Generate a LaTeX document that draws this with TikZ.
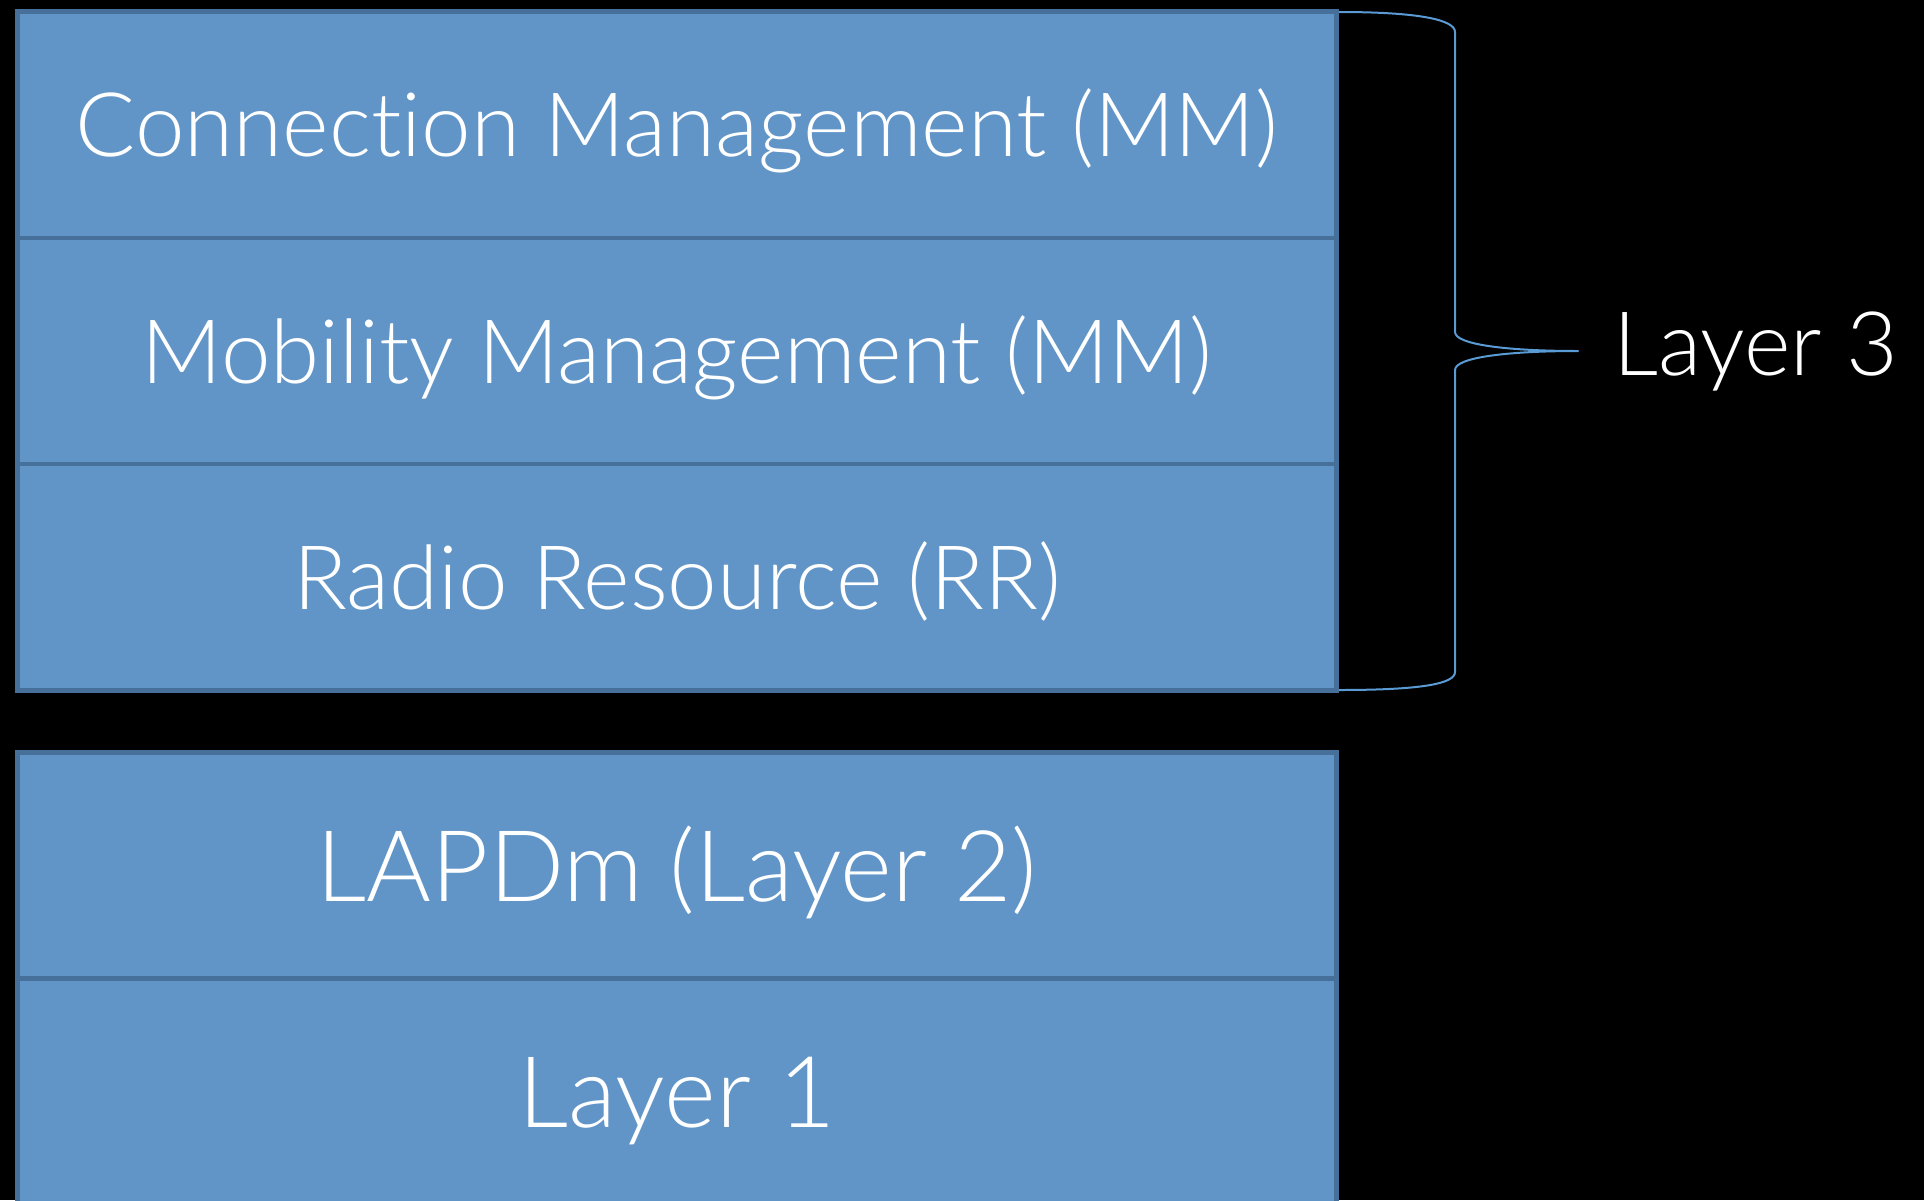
\documentclass[tikz,border=0pt]{standalone}
\usepackage{fontspec}
\setmainfont{Lato Light}[Ligatures=NoCommon]
\definecolor{boxfill}{HTML}{6195C8}
\definecolor{boxedge}{HTML}{466F9A}
\definecolor{bracecol}{HTML}{5B9BD5}
\tikzset{
  layerbox/.style={draw=boxedge, fill=boxfill, line width=4.5pt,
    minimum width=1319pt, minimum height=226.5pt, inner sep=0pt,
    text=white, align=center},
  upper/.style={layerbox, font=\fontsize{89}{100}\selectfont, text height=64pt, text depth=0pt},
  lower/.style={layerbox, font=\fontsize{99}{110}\selectfont, text height=71pt, text depth=0pt},
  bracestyle/.style={draw=bracecol, line width=2pt, line join=round},
}
\begin{document}
\begin{tikzpicture}[x=1pt, y=-1pt]
  \fill[black] (0,0) rectangle (1924,1200);
  \clip (0,0) rectangle (1924,1200);

  % Layer 3 stack
  \node[upper] (cm) at (677,124.7) {Connection Management (MM)};
  \node[upper] (mm) at (677,351.0) {Mobility Management (MM)};
  \node[upper] (rr) at (677,577.3) {Radio Resource (RR)};

  % Layer 2 and Layer 1
  \node[lower] (l2) at (677,865.5) {LAPDm (Layer 2)};
  \node[lower] (l1) at (677,1091.5) {Layer 1};

  % curly brace grouping the Layer 3 sublayers
  \coordinate (btop) at (1339,12);
  \coordinate (bbot) at (1339,690);
  \coordinate (btip) at (1578,351);
  \draw[bracestyle] (btop) .. controls (1420,12) and (1455,20) .. (1455,32)
    -- (1455,332) .. controls (1455,345) and (1510,351) .. (btip)
    .. controls (1510,351) and (1455,357) .. (1455,370)
    -- (1455,672) .. controls (1455,684) and (1420,690) .. (bbot);

  \node[anchor=base west, inner sep=0pt, text=white,
        font=\fontsize{89}{100}\selectfont] (l3) at (1613,375) {Layer 3};
\end{tikzpicture}
\end{document}
